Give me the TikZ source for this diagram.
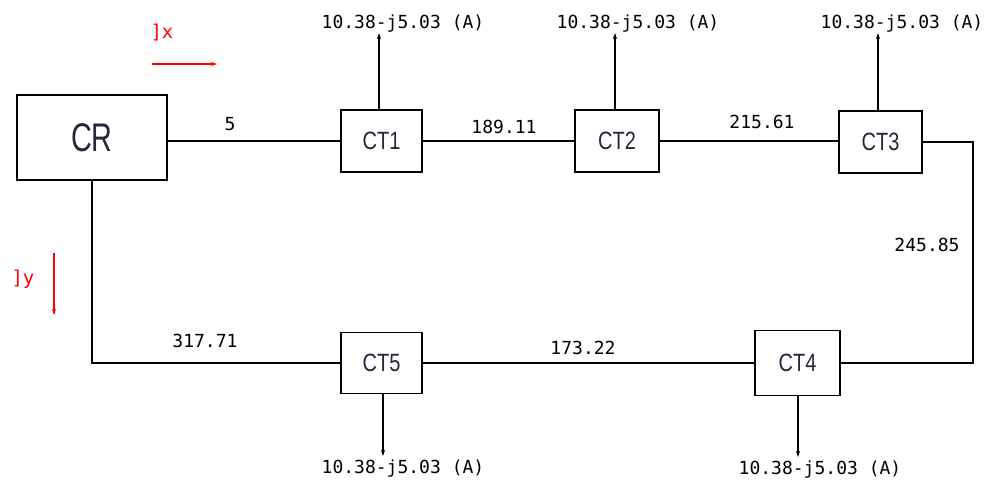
\documentclass[tikz,border=0pt]{standalone}
\usepackage{fontspec}
\setmainfont{Liberation Sans}
\newfontfamily\cadfont{DejaVu Sans Mono}
\usetikzlibrary{arrows.meta}
\definecolor{boxtext}{RGB}{40,36,60}
\tikzset{
  wire/.style={line width=1.5pt, black},
  ctbox/.style={draw, line width=1.5pt, minimum width=82pt, minimum height=62pt, inner sep=0pt, text=boxtext,
     font=\fontsize{25}{25}\selectfont},
  crbox/.style={draw, line width=1.5pt, minimum width=150pt, minimum height=85pt, inner sep=0pt, text=boxtext,
     font=\fontsize{40}{40}\selectfont},
  cad/.style={inner sep=0pt, font=\cadfont\fontsize{18}{18}\selectfont},
  redlbl/.style={cad, text=red, font=\cadfont\fontsize{19}{19}\selectfont},
  curr/.style={wire, -{Stealth[length=6pt,width=4pt]}},
  redarrow/.style={line width=1.4pt, red, -{Stealth[length=6pt,width=4pt]}}
}
\begin{document}
\begin{tikzpicture}[x=1pt,y=-1pt]
\useasboundingbox (0,0) rectangle (986,483);
% boxes
\node[crbox] (CR) at (92,137.5) {\scalebox{0.72}[1]{CR}};
\node[ctbox, minimum width=81pt] (CT1) at (381.5,141) {\scalebox{0.8}[1]{CT1}};
\node[ctbox, minimum width=84pt] (CT2) at (617,141) {\scalebox{0.8}[1]{CT2}};
\node[ctbox, minimum width=83pt] (CT3) at (880.5,142) {\scalebox{0.8}[1]{CT3}};
\node[ctbox, minimum width=81pt, minimum height=61pt] (CT5) at (381.5,363) {\scalebox{0.8}[1]{CT5}};
\node[ctbox, minimum width=85pt, minimum height=65pt] (CT4) at (797.5,363) {\scalebox{0.8}[1]{CT4}};
% connectors
\draw[wire] (CR.east |- CT1.west) -- (CT1.west);
\draw[wire] (CT1.east) -- (CT2.west);
\draw[wire] (CT2.east) -- (CT2.east -| CT3.west);
\coordinate (rc) at (973,250);
\draw[wire] (CT3.east) -| (rc) |- (CT4.east);
\draw[wire] (CT4.west) -- (CT5.west -| CT5.east);
\draw[wire] (CR.south) |- (CT5.west);
% current injections
\coordinate (a1) at (379,33);
\coordinate (a2) at (615,33);
\coordinate (a3) at (878,33);
\coordinate (a5) at (383,456);
\coordinate (a4) at (798,457);
\draw[curr] (CT1.north -| a1) -- (a1);
\draw[curr] (CT2.north -| a2) -- (a2);
\draw[curr] (CT3.north -| a3) -- (a3);
\draw[curr] (CT5.south -| a5) -- (a5);
\draw[curr] (CT4.south -| a4) -- (a4);
\node[cad] (i1) at (403,24) {10.38-j5.03 (A)};
\node[cad] (i2) at (638,24) {10.38-j5.03 (A)};
\node[cad] (i3) at (902,24) {10.38-j5.03 (A)};
\node[cad] (i5) at (403,469) {10.38-j5.03 (A)};
\node[cad] (i4) at (820,470) {10.38-j5.03 (A)};
% line values
\node[cad] (l1) at (230,124) {5};
\node[cad] (l2) at (504,127) {189.11};
\node[cad] (l3) at (762,122) {215.61};
\node[cad] (l4) at (927,245) {245.85};
\node[cad] (l5) at (205,341) {317.71};
\node[cad] (l6) at (583,348) {173.22};
% red direction arrows
\node[redlbl] (ix) at (162,33) {]x};
\coordinate (ixs) at (152,64);
\coordinate (ixe) at (217,64);
\draw[redarrow] (ixs) -- (ixe);
\node[redlbl] (iy) at (23,279) {]y};
\coordinate (iys) at (54,253);
\coordinate (iye) at (54,315);
\draw[redarrow] (iys) -- (iye);
\end{tikzpicture}
\end{document}
